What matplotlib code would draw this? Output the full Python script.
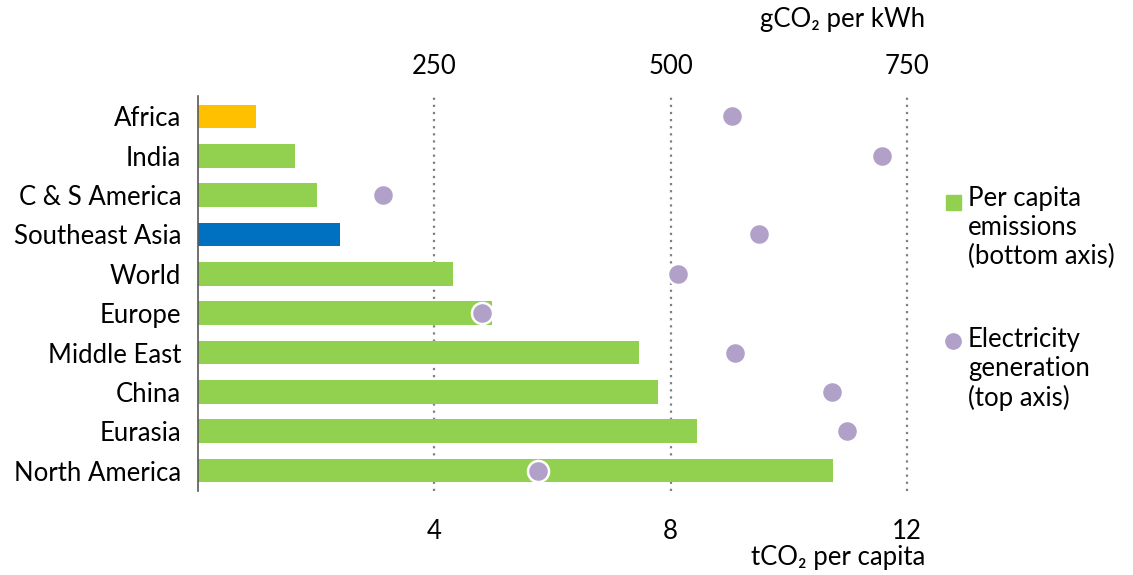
import matplotlib
matplotlib.use("Agg")
import matplotlib.pyplot as plt
from matplotlib.lines import Line2D
from matplotlib.patches import Rectangle

plt.rcParams['font.family'] = ['Lato', 'DejaVu Sans']

regions = ["Africa", "India", "C & S America", "Southeast Asia", "World",
           "Europe", "Middle East", "China", "Eurasia", "North America"]
per_capita = [0.98, 1.64, 2.02, 2.41, 4.32, 4.98, 7.46, 7.78, 8.44, 10.75]
intensity = [565, 724, 196, 593, 508, 300, 568, 671, 687, 360]
bar_colors = ["#FFC000", "#92D050", "#92D050", "#0070C0", "#92D050",
              "#92D050", "#92D050", "#92D050", "#92D050", "#92D050"]
bottom_ticks = [4, 8, 12]
top_ticks = [250, 500, 750]

FS = 18.5

fig = plt.figure(figsize=(11.33, 5.75), dpi=100)
ax = fig.add_axes([198/1133, 1 - 491/575, (907-198)/1133, (491-96)/575])

y = list(range(len(regions)))
ax.barh(y, per_capita, height=0.6, color=bar_colors, zorder=2)
ax.set_xlim(0, 12)
ax.set_ylim(9.52, -0.52)
ax.set_yticks(y)
ax.set_yticklabels(regions, fontsize=FS)
ax.set_xticks(bottom_ticks)
ax.set_xticklabels([str(t) for t in bottom_ticks], fontsize=FS)
ax.tick_params(axis='both', length=0, colors='#000000')
ax.tick_params(axis='x', pad=20)
ax.tick_params(axis='y', pad=12)
for s in ['top', 'right', 'bottom']:
    ax.spines[s].set_visible(False)
ax.spines['left'].set_color('#595959')
ax.spines['left'].set_linewidth(1.2)
ax.xaxis.grid(True, linestyle=(0, (1, 2.2)), color='#7f7f7f', linewidth=1.6, zorder=1)
ax.set_axisbelow(True)
for gl in ax.get_xgridlines():
    gl.set_clip_on(False)

ax2 = ax.twiny()
ax2.set_xlim(0, 750)
ax2.set_xticks(top_ticks)
ax2.set_xticklabels([str(t) for t in top_ticks], fontsize=FS)
ax2.tick_params(axis='x', length=0, pad=12)
for s in ['top', 'right', 'bottom', 'left']:
    ax2.spines[s].set_visible(False)
ax2.scatter(intensity, y, s=230, color='#B1A0C7', edgecolors='white',
            linewidths=1.8, zorder=5)

fig.text(925/1133, 1 - 20/575, "gCO₂ per kWh", ha='right', va='center', fontsize=FS)
fig.text(925/1133, 1 - 558/575, "tCO₂ per capita", ha='right', va='center', fontsize=FS)

# legend
fig.patches.append(Rectangle((946/1133, 1 - 210/575), 15/1133, 15/575,
                             transform=fig.transFigure, color='#92D050'))
fig.text(968/1133, 1 - 186/575, "Per capita\nemissions\n(bottom axis)",
         ha='left', va='top', fontsize=FS, linespacing=1.2)
fig.lines.append(Line2D([953/1133], [1 - 341/575], marker='o', markersize=11,
                        color='#B1A0C7', transform=fig.transFigure, linestyle='none'))
fig.text(968/1133, 1 - 327/575, "Electricity\ngeneration\n(top axis)",
         ha='left', va='top', fontsize=FS, linespacing=1.2)

fig.savefig("out.png", dpi=100)
